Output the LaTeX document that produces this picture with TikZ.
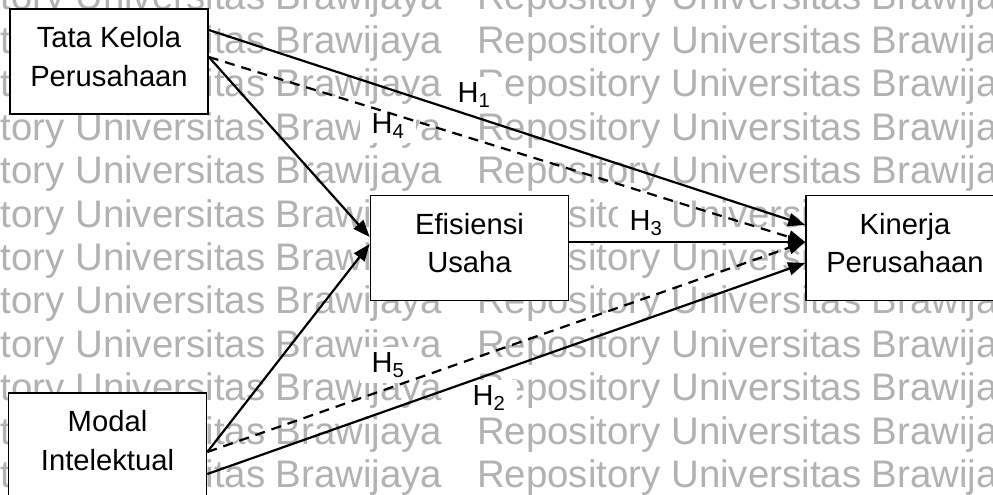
\documentclass[tikz,border=0pt]{standalone}
\usepackage{fontspec}
\setmainfont{Liberation Sans}
\usetikzlibrary{arrows.meta,calc}
\begin{document}
\begin{tikzpicture}[x=1pt,y=-1pt,
  box/.style={draw,line width=1.6pt,fill=white,minimum width=198pt,minimum height=105pt,
    align=center,font=\fontsize{29.2}{38.5}\selectfont,text depth=10pt,inner sep=0pt},
  conn/.style={line width=2.2pt,-{Triangle[length=17pt,width=13pt]}},
  dconn/.style={conn,dash pattern=on 10pt off 7pt},
  hlab/.style={fill=white,inner xsep=12pt,inner ysep=5pt,font=\fontsize{29}{34}\selectfont,anchor=base},
  wm/.style={text=black!30,font=\fontsize{38.4}{40}\selectfont,anchor=base west,inner sep=0pt}]
\useasboundingbox (0,0) rectangle (993,495);
\clip (0,0) rectangle (993,495);
\fill[white] (0,0) rectangle (993,495);
% watermark
\foreach \i in {0,...,11}{
  \foreach \j/\xx in {0/-119,1/477}{
    \node[wm] (wm-\i-\j) at (\xx,{10+43.4*\i}) {Repository Universitas Brawijaya};
  }
}
% labels
\node[hlab] (h1) at (474,102) {H\textsubscript{1}};
\node[hlab] (h4) at (388,133) {H\textsubscript{4}};
\node[hlab] (h3) at (646,230) {H\textsubscript{3}};
\node[hlab] (h5) at (388,372) {H\textsubscript{5}};
\node[hlab] (h2) at (489,405) {H\textsubscript{2}};
% boxes
\node[box] (tk) at (109,61.5) {Tata Kelola\\Perusahaan};
\node[box] (ef) at (469.5,248) {Efisiensi\\Usaha};
\node[box] (kp) at (905,248) {Kinerja\\Perusahaan};
\node[box] (mi) at (107.5,445.5) {Modal\\Intelektual};
% connectors
\draw[conn] ([yshift=31.5pt]tk.east) -- ([yshift=23pt]kp.west);
\draw[dconn] ([yshift=4.5pt]tk.east) -- ([yshift=6pt]kp.west);
\draw[conn] ([yshift=4.5pt]tk.east) -- ([yshift=11pt]ef.west);
\draw[conn] ([yshift=6pt]ef.east) -- ([yshift=6pt]kp.west);
\draw[conn] ([yshift=-6.5pt]mi.east) -- ([yshift=4pt]ef.west);
\draw[dconn] ([yshift=-6.5pt]mi.east) -- ([yshift=6pt]kp.west);
\draw[conn] ([yshift=-28.5pt]mi.east) -- ([yshift=-15pt]kp.west);
\end{tikzpicture}
\end{document}
